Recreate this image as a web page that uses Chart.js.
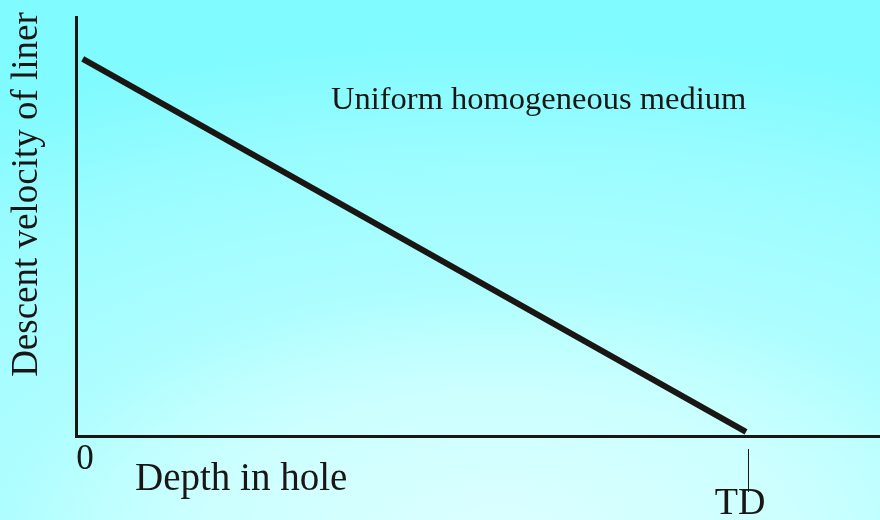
<!DOCTYPE html>
<html>
<head>
<meta charset="utf-8">
<script src="https://cdn.jsdelivr.net/npm/chart.js@4/dist/chart.umd.min.js"></script>
<style>
  html, body { margin: 0; padding: 0; background: #aefcff; }
  #wrap { width: 880px; height: 520px; position: relative; }
</style>
</head>
<body>
<div id="wrap"><canvas id="c" width="880" height="520"></canvas></div>
<script>
// ---- data ----
const depth = [0.1, 10];          // depth in hole (TD = 10)
const velocity = [9.0, 0.1];      // descent velocity of liner
const xTickValues = [0, 10];
const xTickLabels = ['0', 'TD'];
const xTitle = 'Depth in hole';
const yTitle = 'Descent velocity of liner';
const noteText = 'Uniform homogeneous medium';

const INK = '#1a1614';
const SERIF = '"Liberation Serif", "DejaVu Serif", serif';

const points = depth.map((d, i) => ({ x: d, y: velocity[i] }));

const bgPlugin = {
  id: 'bg',
  beforeDraw(chart) {
    const ctx = chart.ctx;
    const w = chart.width, h = chart.height;
    ctx.save();
    ctx.fillStyle = '#80fbff';
    ctx.fillRect(0, 0, w, h);
    // elliptical radial glow centred low and slightly right of middle
    const cx = 500, cy = 540, rx = 1000, ry = 500;
    ctx.translate(cx, cy);
    ctx.scale(rx / ry, 1);
    const g = ctx.createRadialGradient(0, 0, 0, 0, 0, ry);
    g.addColorStop(0, '#dcffff');
    g.addColorStop(0.3, '#ccffff');
    g.addColorStop(0.4, '#bfffff');
    g.addColorStop(0.5, '#aefdff');
    g.addColorStop(0.7, '#a0fdff');
    g.addColorStop(0.8, '#98fcff');
    g.addColorStop(1, '#80fbff');
    ctx.fillStyle = g;
    ctx.fillRect(-cx * ry / rx - 10, -cy - 10, w * ry / rx + 20, h + 20);
    ctx.restore();
  }
};

const labelPlugin = {
  id: 'labels',
  afterDraw(chart) {
    const ctx = chart.ctx;
    const xs = chart.scales.x, ys = chart.scales.y;
    const ca = chart.chartArea;
    ctx.save();
    ctx.fillStyle = INK;
    ctx.strokeStyle = INK;

    // tick labels
    const x0 = xs.getPixelForValue(xTickValues[0]);
    const xTD = xs.getPixelForValue(xTickValues[1]);
    ctx.font = '35px ' + SERIF;
    ctx.textAlign = 'center';
    ctx.textBaseline = 'alphabetic';
    ctx.fillText(xTickLabels[0], x0 + 9, ca.bottom + 33);

    ctx.font = '38px ' + SERIF;
    ctx.fillText(xTickLabels[1], xTD - 6, ca.bottom + 78);

    // TD tick mark
    ctx.lineWidth = 1;
    ctx.beginPath();
    ctx.moveTo(xTD + 2.5, ca.bottom + 13);
    ctx.lineTo(xTD + 2.5, ca.bottom + 56);
    ctx.stroke();

    // x title
    ctx.font = '39px ' + SERIF;
    ctx.textAlign = 'left';
    ctx.fillText(xTitle, x0 + 59, ca.bottom + 54);

    // note
    ctx.font = '32.5px ' + SERIF;
    ctx.fillText(noteText, x0 + 255, ys.getPixelForValue(7.8));

    // y title
    ctx.translate(27, (ca.top + ca.bottom) / 2 - 32);
    ctx.rotate(-Math.PI / 2);
    ctx.font = '37px ' + SERIF;
    ctx.textAlign = 'center';
    ctx.textBaseline = 'middle';
    ctx.fillText(yTitle, 0, 0);
    ctx.restore();
  }
};

new Chart(document.getElementById('c'), {
  type: 'scatter',
  data: {
    datasets: [{
      data: points,
      showLine: true,
      borderColor: INK,
      borderWidth: 6,
      pointRadius: 0,
      borderCapStyle: 'butt',
      fill: false
    }]
  },
  options: {
    responsive: false,
    animation: false,
    events: [],
    layout: { padding: { left: 76, right: 0, top: 17, bottom: 84 } },
    plugins: { legend: { display: false }, tooltip: { enabled: false } },
    scales: {
      x: {
        type: 'linear', min: 0, max: 12,
        grid: { display: false, drawTicks: false },
        ticks: { display: false },
        border: { display: true, width: 3, color: INK }
      },
      y: {
        type: 'linear', min: 0, max: 10,
        grid: { display: false, drawTicks: false },
        ticks: { display: false },
        border: { display: true, width: 3, color: INK }
      }
    }
  },
  plugins: [bgPlugin, labelPlugin]
});
</script>
</body>
</html>
